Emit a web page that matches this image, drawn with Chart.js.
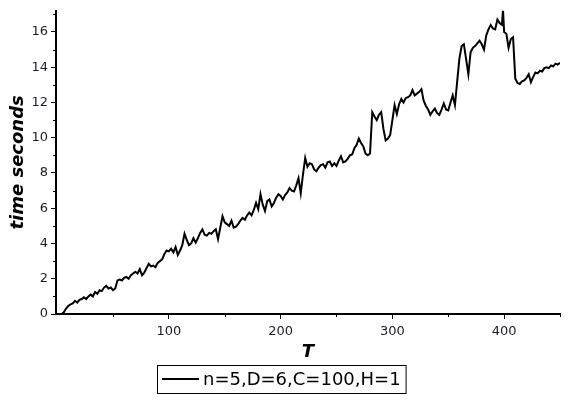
<!DOCTYPE html>
<html>
<head>
<meta charset="utf-8">
<script src="https://cdn.jsdelivr.net/npm/chart.js@4"></script>
<style>
  html, body { margin: 0; padding: 0; background: #fff; }
  #wrap { width: 568px; height: 400px; }
</style>
</head>
<body>
<div id="wrap"><canvas id="plot" width="568" height="400"></canvas></div>
<script>
const seriesLabel = "n=5,D=6,C=100,H=1";

const tValues = [
    0, 2, 4, 6, 8, 10, 12, 14, 16, 18,
    20, 22, 24, 26, 28, 30, 32, 34, 36, 38,
    40, 42, 44, 46, 48, 50, 52, 54, 56, 58,
    60, 62, 64, 66, 68, 70, 72, 74, 76, 78,
    80, 82, 84, 86, 88, 90, 92, 94, 96, 98,
    100, 102, 104, 106, 108, 110, 112, 114, 116, 118,
    120, 122, 124, 126, 128, 130, 132, 134, 136, 138,
    140, 142, 144, 146, 148, 150, 152, 154, 156, 158,
    160, 162, 164, 166, 168, 170, 172, 174, 176, 178,
    180, 182, 184, 186, 188, 190, 192, 194, 196, 198,
    200, 202, 204, 206, 208, 210, 212, 214, 216, 218,
    220, 222, 224, 226, 228, 230, 232, 234, 236, 238,
    240, 242, 244, 246, 248, 250, 252, 254, 256, 258,
    260, 262, 264, 266, 268, 270, 272, 274, 276, 278,
    280, 282, 284, 286, 288, 290, 292, 294, 296, 298,
    300, 302, 304, 306, 308, 310, 312, 314, 316, 318,
    320, 322, 324, 326, 328, 330, 332, 334, 336, 338,
    340, 342, 344, 346, 348, 350, 352, 354, 356, 358,
    360, 362, 364, 366, 368, 370, 372, 374, 376, 378,
    380, 382, 384, 386, 388, 390, 392, 394, 396, 398,
    399, 400, 402, 404, 406, 408, 410, 412, 414, 416, 418,
    420, 422, 424, 426, 428, 430, 432, 434, 436, 438,
    440, 442, 444, 446, 448, 450
];

const timeSeconds = [
    0, 0, 0, 0.1, 0.3, 0.45, 0.55, 0.6, 0.75, 0.65,
    0.8, 0.85, 0.95, 0.85, 1.0, 1.1, 1.0, 1.25, 1.15, 1.35,
    1.3, 1.5, 1.6, 1.45, 1.5, 1.35, 1.45, 1.9, 1.95, 1.9,
    2.05, 2.1, 2.0, 2.2, 2.3, 2.4, 2.3, 2.55, 2.2, 2.35,
    2.6, 2.85, 2.7, 2.75, 2.65, 2.9, 3.0, 3.1, 3.4, 3.6,
    3.55, 3.7, 3.5, 3.8, 3.35, 3.6, 3.9, 4.55, 4.2, 3.9,
    4.0, 4.3, 4.05, 4.3, 4.6, 4.8, 4.5, 4.45, 4.6, 4.55,
    4.7, 4.8, 4.25, 4.9, 5.55, 5.2, 5.1, 5.0, 5.3, 4.9,
    4.95, 5.1, 5.3, 5.45, 5.35, 5.6, 5.75, 5.6, 5.9, 6.3,
    5.95, 6.8, 6.2, 5.85, 6.4, 6.5, 6.1, 6.3, 6.6, 6.8,
    6.7, 6.5, 6.75, 6.9, 7.15, 7.0, 6.95, 7.3, 7.7, 6.85,
    7.9, 8.85, 8.35, 8.55, 8.5, 8.2, 8.1, 8.3, 8.45, 8.5,
    8.3, 8.6, 8.65, 8.4, 8.55, 8.4, 8.7, 8.95, 8.6, 8.65,
    8.8, 9.0, 9.05, 9.4, 9.6, 9.95, 9.7, 9.5, 9.1, 9.0,
    9.1, 11.45, 11.2, 11.0, 11.3, 11.45, 10.5, 9.85, 9.95, 10.15,
    11.0, 11.85, 11.35, 11.9, 12.2, 12.0, 12.25, 12.3, 12.4, 12.7,
    12.4, 12.5, 12.6, 12.75, 12.1, 11.8, 11.6, 11.3, 11.5, 11.65,
    11.4, 11.3, 11.6, 11.95, 11.6, 11.55, 12.0, 12.4, 11.85, 13.2,
    14.5, 15.2, 15.3, 14.45, 13.6, 14.85, 15.1, 15.2, 15.35, 15.5,
    15.3, 15.0, 15.8, 16.15, 16.4, 16.2, 16.15, 16.7, 16.5, 16.4,
    17.25, 16.0, 15.9, 15.1, 15.6, 15.7, 13.35, 13.1, 13.05, 13.2, 13.25,
    13.4, 13.6, 13.15, 13.45, 13.7, 13.65, 13.8, 13.75, 13.95, 14.0,
    13.95, 14.1, 14.05, 14.2, 14.15, 14.25
];

const xTickValues = [100, 200, 300, 400];
const xMinorValues = [50, 150, 250, 350, 450];
const yTickValues = [0, 2, 4, 6, 8, 10, 12, 14, 16];
const yMinorValues = [1, 3, 5, 7, 9, 11, 13, 15, 17];

const ink = "#000";
const labelColor = "#1c1c2c";

// small ticks between the labelled ones
const minorTicks = {
    id: "minorTicks",
    afterDraw(chart) {
        const ctx = chart.ctx;
        const xs = chart.scales.x, ys = chart.scales.y;
        ctx.save();
        ctx.strokeStyle = ink;
        ctx.lineWidth = 1;
        ctx.beginPath();
        xMinorValues.forEach(v => {
            const px = Math.round(xs.getPixelForValue(v)) + 0.5;
            ctx.moveTo(px, ys.bottom);
            ctx.lineTo(px, ys.bottom + 3);
        });
        yMinorValues.forEach(v => {
            const py = Math.round(ys.getPixelForValue(v)) + 0.5;
            if (py < ys.top) return;
            ctx.moveTo(xs.left, py);
            ctx.lineTo(xs.left - 3, py);
        });
        ctx.stroke();
        ctx.restore();
    }
};

// boxed legend under the axis title
const boxedLegend = {
    id: "boxedLegend",
    afterDraw(chart) {
        const ctx = chart.ctx;
        const ds = chart.data.datasets[0];
        ctx.save();
        ctx.font = "18px 'DejaVu Sans'";
        const textW = ctx.measureText(ds.label).width;
        const lineW = 37, gap = 4, pad = 5;
        const boxW = pad + lineW + gap + textW + pad;
        const boxH = 28;
        const x0 = 157;
        const y0 = 365;
        ctx.strokeStyle = ink;
        ctx.lineWidth = 1;
        ctx.strokeRect(x0 + 0.5, y0 + 0.5, boxW, boxH);
        ctx.lineWidth = 2;
        ctx.beginPath();
        ctx.moveTo(x0 + pad, y0 + boxH / 2);
        ctx.lineTo(x0 + pad + lineW, y0 + boxH / 2);
        ctx.stroke();
        ctx.fillStyle = ink;
        ctx.textBaseline = "middle";
        ctx.fillText(ds.label, x0 + pad + lineW + gap, y0 + boxH / 2 + 1);
        ctx.restore();
    }
};

const points = tValues.map((t, i) => ({ x: t, y: timeSeconds[i] }));

new Chart(document.getElementById("plot"), {
    type: "line",
    data: {
        datasets: [{
            label: seriesLabel,
            data: points,
            borderColor: ink,
            borderWidth: 2,
            pointRadius: 0,
            tension: 0,
            fill: false
        }]
    },
    options: {
        responsive: false,
        animation: false,
        layout: { padding: { left: 4, right: 8, top: 8, bottom: 35 } },
        plugins: {
            legend: { display: false },
            tooltip: { enabled: false }
        },
        scales: {
            x: {
                type: "linear",
                min: -1,
                max: 450,
                afterBuildTicks: s => { s.ticks = xTickValues.map(v => ({ value: v })); },
                afterFit: s => { s.height = 51; },
                border: { color: ink, width: 2 },
                grid: { drawOnChartArea: false, tickLength: 5, tickColor: ink },
                ticks: {
                    color: labelColor,
                    font: { family: "'DejaVu Sans'", size: 13 },
                    padding: 5,
                    maxRotation: 0
                },
                title: {
                    display: true,
                    text: "T",
                    color: ink,
                    font: { family: "'DejaVu Sans'", size: 18, weight: "bold", style: "italic" },
                    padding: { top: 0, bottom: 2 }
                }
            },
            y: {
                type: "linear",
                min: 0,
                max: 17.2,
                afterBuildTicks: s => { s.ticks = yTickValues.map(v => ({ value: v })); },
                afterFit: s => { s.width = 52; },
                border: { color: ink, width: 2 },
                grid: { drawOnChartArea: false, tickLength: 5, tickColor: ink },
                ticks: {
                    color: labelColor,
                    font: { family: "'DejaVu Sans'", size: 13 },
                    padding: 3
                },
                title: {
                    display: true,
                    text: "time seconds",
                    color: ink,
                    font: { family: "'DejaVu Sans'", size: 18, weight: "bold", style: "italic" },
                    padding: { top: 4, bottom: 0 }
                }
            }
        }
    },
    plugins: [minorTicks, boxedLegend]
});
</script>
</body>
</html>
